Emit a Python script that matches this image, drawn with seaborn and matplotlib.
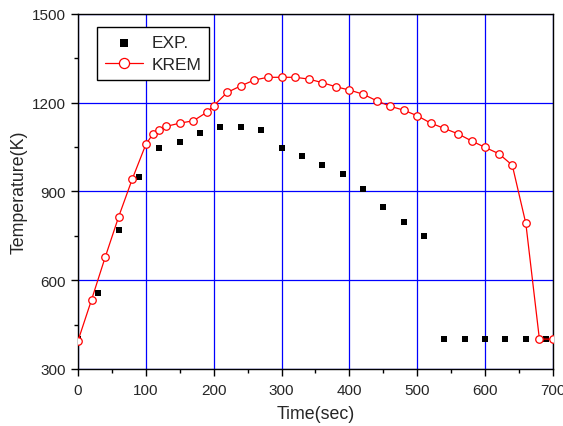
import pandas as pd
import matplotlib
matplotlib.use("Agg")
import matplotlib.pyplot as plt
import seaborn as sns
from matplotlib.ticker import MultipleLocator

# DATOS
exp_t = [0, 30, 60, 90, 120, 150, 180, 210, 240, 270, 300, 330, 360, 390,
         420, 450, 480, 510, 540, 570, 600, 630, 660, 690]
exp_T = [400, 558, 769, 948, 1047, 1068, 1098, 1117, 1117, 1108, 1047, 1019,
         990, 959, 908, 848, 798, 749, 400, 400, 400, 400, 400, 400]

krem_t = [0, 20, 40, 60, 80, 100, 110, 120, 130, 150, 170, 190, 200, 220,
          240, 260, 280, 300, 320, 340, 360, 380, 400, 420, 440, 460, 480,
          500, 520, 540, 560, 580, 600, 620, 640, 660, 680, 700]
krem_T = [395, 534, 677, 815, 942, 1059, 1093, 1108, 1120, 1131, 1139, 1168,
          1190, 1235, 1257, 1277, 1286, 1286, 1286, 1280, 1268, 1254, 1243,
          1229, 1207, 1188, 1175, 1156, 1131, 1113, 1095, 1071, 1049, 1028,
          989, 792, 401, 401]

exp = pd.DataFrame({"t": exp_t, "T": exp_T})
krem = pd.DataFrame({"t": krem_t, "T": krem_T})

sns.set_style("ticks")
plt.rcParams["font.family"] = ["Liberation Sans", "DejaVu Sans"]

fig = plt.figure(figsize=(5.63, 4.27), dpi=100)
ax = fig.add_axes([0.1385, 0.1335, 0.8437, 0.8314])

# GRILLA AZUL
ax.set_axisbelow(True)
ax.grid(True, which="major", color="#0000ff", linewidth=0.9)

sns.scatterplot(data=exp, x="t", y="T", marker="s", color="black", s=19,
                edgecolor="black", linewidth=0, ax=ax, label="EXP.", zorder=3)
sns.lineplot(data=krem, x="t", y="T", color="red", linewidth=0.9,
             marker="o", markersize=5.4, markerfacecolor="white",
             markeredgecolor="red", markeredgewidth=0.9, ax=ax,
             label="KREM", zorder=4)

ax.set_xlim(0, 700)
ax.set_ylim(300, 1500)
ax.xaxis.set_major_locator(MultipleLocator(100))
ax.xaxis.set_minor_locator(MultipleLocator(50))
ax.yaxis.set_major_locator(MultipleLocator(300))
ax.yaxis.set_minor_locator(MultipleLocator(150))
ax.tick_params(which="major", direction="out", length=5, width=1, labelsize=11, color="black")
ax.tick_params(axis="x", which="major", pad=5)
ax.tick_params(which="minor", direction="out", length=3, width=1, color="black")

for sp in ax.spines.values():
    sp.set_color("black")
    sp.set_linewidth(1)

ax.set_xlabel("Time(sec)", fontsize=12.8, labelpad=6)
ax.set_ylabel("Temperature(K)", fontsize=12.8, labelpad=3)

leg = ax.legend(loc="upper left", bbox_to_anchor=(0.04, 0.963), borderaxespad=0,
                fontsize=12.5, frameon=True, fancybox=False, edgecolor="black",
                framealpha=1, handlelength=2.2, handletextpad=0.5,
                borderpad=0.45, labelspacing=0.4, markerscale=1.35)
leg.get_frame().set_linewidth(1)

fig.savefig("out.png", dpi=100)
